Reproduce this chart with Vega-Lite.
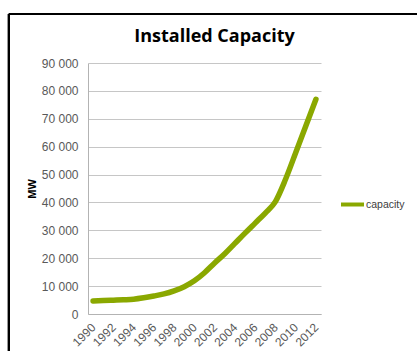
{
  "$schema": "https://vega.github.io/schema/vega-lite/v6.json",
  "width": 233,
  "height": 251,
  "padding": {"left": 7, "top": 12, "right": 0, "bottom": 0},
  "background": "white",
  "title": {
    "text": "Installed Capacity",
    "font": "Open Sans",
    "fontSize": 18,
    "fontWeight": "bold",
    "color": "#000000",
    "anchor": "middle",
    "frame": "group",
    "dx": 10,
    "offset": -33
  },
  "data": {
    "values": [
      {"year": 1990, "capacity": 4700},
      {"year": 1991, "capacity": 4800},
      {"year": 1992, "capacity": 4950},
      {"year": 1993, "capacity": 5100},
      {"year": 1994, "capacity": 5300},
      {"year": 1995, "capacity": 5800},
      {"year": 1996, "capacity": 6450},
      {"year": 1997, "capacity": 7200},
      {"year": 1998, "capacity": 8300},
      {"year": 1999, "capacity": 9800},
      {"year": 2000, "capacity": 11900},
      {"year": 2001, "capacity": 14800},
      {"year": 2002, "capacity": 18300},
      {"year": 2003, "capacity": 21600},
      {"year": 2004, "capacity": 25300},
      {"year": 2005, "capacity": 29000},
      {"year": 2006, "capacity": 32600},
      {"year": 2007, "capacity": 36200},
      {"year": 2008, "capacity": 40300},
      {"year": 2009, "capacity": 48300},
      {"year": 2010, "capacity": 57800},
      {"year": 2011, "capacity": 67400},
      {"year": 2012, "capacity": 77000}
    ]
  },
  "layer": [
    {
      "mark": {"type": "line", "strokeWidth": 5.5, "interpolate": "monotone", "strokeCap": "round"},
      "encoding": {
        "x": {
          "field": "year",
          "type": "quantitative",
          "scale": {"domain": [1989.5, 2012.5], "nice": false, "zero": false},
          "axis": {
            "title": null,
            "values": [1990, 1992, 1994, 1996, 1998, 2000, 2002, 2004, 2006, 2008, 2010, 2012],
            "format": "d",
            "labelAngle": -45,
            "labelAlign": "right",
            "labelBaseline": "middle",
            "labelPadding": 11,
            "ticks": false,
            "grid": false,
            "labelFlush": false,
            "labelOverlap": false
          }
        },
        "y": {
          "field": "capacity",
          "type": "quantitative",
          "scale": {"domain": [0, 90000], "nice": false},
          "axis": {
            "title": "MW",
            "titleFont": "Liberation Sans",
            "titleFontSize": 11,
            "titleFontWeight": "bold",
            "titleColor": "#000000",
            "titlePadding": 4,
            "values": [0, 10000, 20000, 30000, 40000, 50000, 60000, 70000, 80000, 90000],
            "labelExpr": "replace(format(datum.value, ','), ',', ' ')",
            "labelPadding": 10,
            "labelOverlap": false,
            "ticks": false,
            "grid": true
          }
        },
        "color": {
          "datum": "capacity",
          "scale": {"range": ["#8aa800"]},
          "legend": {
            "title": null,
            "orient": "none",
            "legendX": 251,
            "legendY": 128,
            "padding": 0,
            "symbolType": "stroke",
            "symbolSize": 529,
            "symbolStrokeWidth": 4,
            "labelOffset": 0,
            "labelFontSize": 10.5,
            "labelFont": "Liberation Sans",
            "labelColor": "#404040"
          }
        }
      }
    },
    {
      "mark": {"type": "rule", "color": "#000000", "strokeWidth": 2},
      "encoding": {
        "x": {
          "datum": 1981.7,
          "type": "quantitative",
          "axis": {
            "title": null,
            "values": [1990, 1992, 1994, 1996, 1998, 2000, 2002, 2004, 2006, 2008, 2010, 2012],
            "format": "d",
            "labelAngle": -45,
            "labelAlign": "right",
            "labelBaseline": "middle",
            "labelPadding": 11,
            "ticks": false,
            "grid": false,
            "labelFlush": false,
            "labelOverlap": false
          }
        },
        "y": {
          "datum": 107570,
          "type": "quantitative",
          "axis": {
            "title": "MW",
            "titleFont": "Liberation Sans",
            "titleFontSize": 11,
            "titleFontWeight": "bold",
            "titleColor": "#000000",
            "titlePadding": 4,
            "values": [0, 10000, 20000, 30000, 40000, 50000, 60000, 70000, 80000, 90000],
            "labelExpr": "replace(format(datum.value, ','), ',', ' ')",
            "labelPadding": 10,
            "labelOverlap": false,
            "ticks": false,
            "grid": true
          }
        },
        "y2": {"datum": -30000}
      }
    },
    {
      "mark": {"type": "rule", "color": "#000000", "strokeWidth": 2},
      "encoding": {
        "x": {
          "datum": 1981.7,
          "type": "quantitative",
          "axis": {
            "title": null,
            "values": [1990, 1992, 1994, 1996, 1998, 2000, 2002, 2004, 2006, 2008, 2010, 2012],
            "format": "d",
            "labelAngle": -45,
            "labelAlign": "right",
            "labelBaseline": "middle",
            "labelPadding": 11,
            "ticks": false,
            "grid": false,
            "labelFlush": false,
            "labelOverlap": false
          }
        },
        "x2": {"datum": 2025},
        "y": {
          "datum": 107570,
          "type": "quantitative",
          "axis": {
            "title": "MW",
            "titleFont": "Liberation Sans",
            "titleFontSize": 11,
            "titleFontWeight": "bold",
            "titleColor": "#000000",
            "titlePadding": 4,
            "values": [0, 10000, 20000, 30000, 40000, 50000, 60000, 70000, 80000, 90000],
            "labelExpr": "replace(format(datum.value, ','), ',', ' ')",
            "labelPadding": 10,
            "labelOverlap": false,
            "ticks": false,
            "grid": true
          }
        }
      }
    }
  ],
  "config": {
    "view": {"stroke": null},
    "axis": {
      "labelFont": "Liberation Sans",
      "labelFontSize": 12,
      "labelColor": "#595959",
      "domainColor": "#b3b3b3",
      "domainWidth": 1,
      "gridColor": "#c6c6c6",
      "gridWidth": 1
    }
  }
}
